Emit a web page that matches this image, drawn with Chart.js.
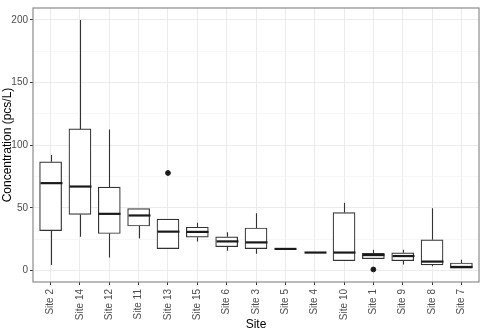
<!DOCTYPE html>
<html>
<head>
<meta charset="utf-8">
<title>Concentration by site</title>
<script src="https://cdn.jsdelivr.net/npm/chart.js@4.4.1/dist/chart.umd.min.js"></script>
<style>
  body { margin: 0; background: #fff; }
</style>
</head>
<body>
<canvas id="myChart" width="484" height="329"></canvas>
<script>
// data (pcs/L)
const sites  = ["Site 2","Site 14","Site 12","Site 11","Site 13","Site 15","Site 6","Site 3","Site 5","Site 4","Site 10","Site 1","Site 9","Site 8","Site 7"];
const lowW   = [4.4, 26.9, 10.4, 25.6, 17.5, 23.2, 15.7, 13.3, 17.2, 14.3, 7.8, 9.4, 4.7, 3.4, 1.8];
const q1     = [31.8, 44.7, 29.5, 35.5, 17.5, 26.6, 19.0, 17.5, 17.2, 14.3, 7.8, 9.4, 7.8, 4.4, 1.8];
const median = [69.7, 67.0, 45.2, 43.9, 31.0, 30.8, 23.2, 22.4, 17.2, 14.3, 14.3, 12.3, 11.5, 7.1, 2.8];
const q3     = [86.7, 113.0, 66.6, 49.4, 41.0, 34.5, 26.9, 33.9, 17.2, 14.3, 46.2, 13.6, 14.1, 24.5, 6.0];
const highW  = [92.2, 200.0, 112.5, 49.4, 41.0, 38.1, 30.6, 45.7, 17.2, 14.3, 54.0, 16.5, 16.5, 49.6, 8.6];
const outlierSite  = [4, 11];      // index into sites
const outlierValue = [77.8, 0.8];
const yTicks = [0, 25, 50, 75, 100, 125, 150, 175, 200];

const FONT = "'Liberation Sans', Arial, sans-serif";

// whiskers and medians, drawn with the chart's own scales
const boxParts = {
    id: 'boxParts',
    afterDatasetsDraw(chart) {
        const ctx = chart.ctx;
        const xs = chart.scales.x, ys = chart.scales.y;
        ctx.save();
        ctx.strokeStyle = '#333333';
        for (let i = 0; i < sites.length; i++) {
            const x = Math.round(xs.getPixelForValue(i)) + 0.5;
            ctx.lineWidth = 1.1;
            ctx.beginPath();
            ctx.moveTo(x, ys.getPixelForValue(highW[i]));
            ctx.lineTo(x, ys.getPixelForValue(q3[i]));
            ctx.moveTo(x, ys.getPixelForValue(q1[i]));
            ctx.lineTo(x, ys.getPixelForValue(lowW[i]));
            ctx.stroke();
            ctx.lineWidth = 2.2;
            ctx.strokeStyle = '#1a1a1a';
            const ym = ys.getPixelForValue(median[i]);
            ctx.beginPath();
            ctx.moveTo(x - 11, ym);
            ctx.lineTo(x + 11, ym);
            ctx.stroke();
            ctx.strokeStyle = '#333333';
        }
        ctx.restore();
    },
    afterDraw(chart) {
        // panel border
        const a = chart.chartArea, ctx = chart.ctx;
        ctx.save();
        ctx.strokeStyle = '#8c8c8c';
        ctx.lineWidth = 1.2;
        ctx.strokeRect(a.left, a.top, a.right - a.left, a.bottom - a.top);
        ctx.restore();
    }
};

const boxData = sites.map((s, i) => ({ x: i, y: [q1[i], q3[i]] }));
const outlierData = outlierSite.map((s, i) => ({ x: s, y: outlierValue[i] }));

new Chart(document.getElementById('myChart'), {
    type: 'bar',
    data: {
        datasets: [
            {
                label: 'box',
                data: boxData,
                backgroundColor: '#ffffff',
                borderColor: '#333333',
                borderWidth: 1.2,
                borderSkipped: false,
                barThickness: 22
            },
            {
                type: 'scatter',
                label: 'outliers',
                data: outlierData,
                backgroundColor: '#1a1a1a',
                borderColor: '#1a1a1a',
                pointRadius: 2.4
            }
        ]
    },
    options: {
        responsive: false,
        animation: false,
        layout: { padding: { top: 3, right: 2, left: 0, bottom: 0 } },
        plugins: {
            legend: { display: false },
            tooltip: { enabled: false }
        },
        scales: {
            x: {
                type: 'linear',
                min: -0.6,
                max: 14.6,
                offset: false,
                afterBuildTicks: (scale) => { scale.ticks = sites.map((s, i) => ({ value: i })); },
                afterFit: (scale) => { scale.height = 47; },
                grid: { offset: false, color: '#ebebeb', lineWidth: 1, tickLength: 3, tickColor: '#333333' },
                border: { display: false },
                ticks: {
                    autoSkip: false,
                    minRotation: 90,
                    maxRotation: 90,
                    padding: 4,
                    color: '#4d4d4d',
                    font: { family: FONT, size: 10 },
                    callback: (v) => sites[v]
                },
                title: {
                    display: true,
                    text: 'Site',
                    color: '#000000',
                    font: { family: FONT, size: 12 },
                    padding: { top: 0, bottom: -3 }
                }
            },
            y: {
                min: -9.2,
                max: 209.5,
                afterBuildTicks: (scale) => { scale.ticks = yTicks.map(v => ({ value: v })); },
                afterFit: (scale) => { scale.width = 33; },
                grid: {
                    color: (c) => (c.tick && c.tick.value % 50 === 0) ? '#ebebeb' : '#f4f4f4',
                    lineWidth: (c) => (c.tick && c.tick.value % 50 === 0) ? 1 : 0.8,
                    tickLength: 3,
                    tickColor: (c) => (c.tick && c.tick.value % 50 === 0) ? '#333333' : 'rgba(0,0,0,0)'
                },
                border: { display: false },
                ticks: {
                    padding: 2,
                    color: '#4d4d4d',
                    font: { family: FONT, size: 10 },
                    callback: (v) => (v % 50 === 0 ? v : '')
                },
                title: {
                    display: true,
                    text: 'Concentration (pcs/L)',
                    color: '#000000',
                    font: { family: FONT, size: 12 },
                    padding: { top: 0, bottom: 0 }
                }
            }
        }
    },
    plugins: [boxParts]
});
</script>
</body>
</html>
